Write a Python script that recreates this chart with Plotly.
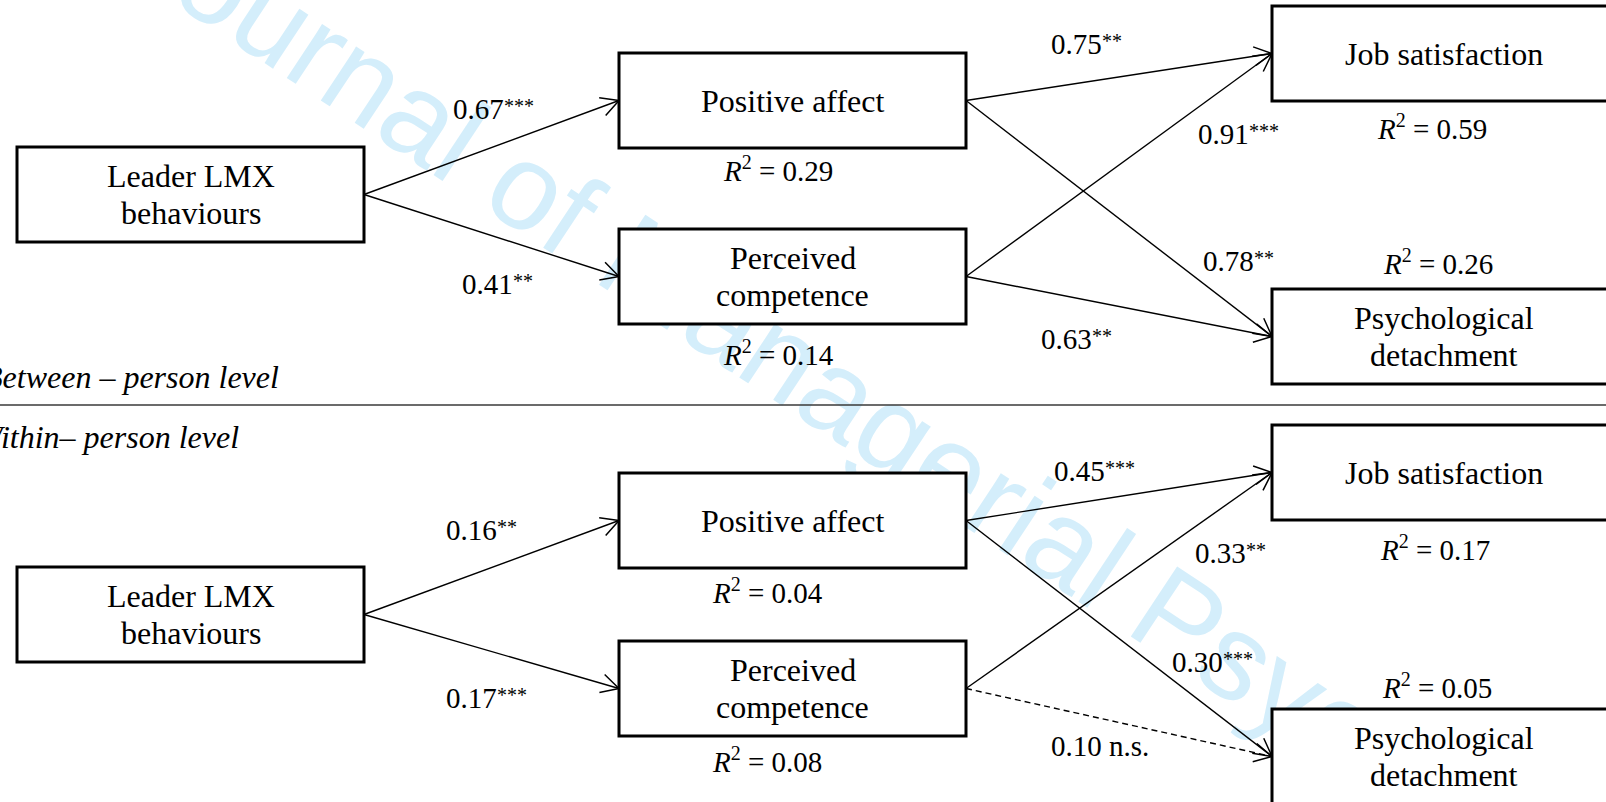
import math
import plotly.graph_objects as go

# ---------------- data ----------------
node_labels = ["Leader LMX<br>behaviours", "Positive affect", "Perceived<br>competence",
               "Job satisfaction", "Psychological<br>detachment"]
path_from = [0, 0, 1, 1, 2, 2]
path_to = [1, 2, 3, 4, 3, 4]
level_names = ["Between – person level", "Within– person level"]
between_coef = [0.67, 0.41, 0.75, 0.78, 0.91, 0.63]
between_sig = ["***", "**", "**", "**", "***", "**"]
within_coef = [0.16, 0.17, 0.45, 0.30, 0.33, 0.10]
within_sig = ["**", "***", "***", "***", "**", "n.s."]
between_r2 = [None, 0.29, 0.14, 0.59, 0.26]
within_r2 = [None, 0.04, 0.08, 0.17, 0.05]
watermark_text = "Journal of Managerial Psychology"

# ---------------- layout (positions / styles) ----------------
W, H = 1606, 802
SERIF = "Liberation Serif, Times New Roman, serif"
BOX_FS, LAB_FS, STAR_FS, LEVEL_FS = 32, 29, 20, 32
node_left = [17, 619, 619, 1272, 1272]
node_width = [347, 347, 347, 344, 344]
node_height = 95
node_top = [[147, 53, 229, 6, 289], [567, 473, 641, 425, 709]]
coef_pos = [[(451, 109), (460, 284), (1049, 44), (1201, 261), (1196, 134), (1039, 339)],
            [(444, 530), (444, 698), (1052, 471), (1170, 662), (1193, 553), (1049, 746)]]
r2_pos = [[None, (778, 169), (778, 353), (1432, 127), (1438, 262)],
          [None, (767, 591), (767, 760), (1435, 548), (1437, 686)]]
level_pos = [(281, 377), (241, 437)]
sep_y = 405
line_gap = 36.5
head_len, head_ang = 20, math.radians(28)
wm_center, wm_angle, wm_size = (909, 425), 33.5, 122
CHAR_W = {".": 0.25}  # Times-like advance widths (em); digits 0.5

levels = [(between_coef, between_sig, between_r2), (within_coef, within_sig, within_r2)]

fig = go.Figure()

# watermark (behind everything)
fig.add_shape(type="rect", x0=wm_center[0] - 1, x1=wm_center[0] + 1,
              y0=wm_center[1] - 1, y1=wm_center[1] + 1, layer="below",
              line=dict(width=0), fillcolor="rgba(0,0,0,0)",
              label=dict(text=watermark_text, textangle=wm_angle, textposition="middle center",
                         font=dict(family="Liberation Sans, Arial, sans-serif", size=wm_size,
                                   color="#d4eefb")))

for li, (coefs, sigs, r2s) in enumerate(levels):
    tops = node_top[li]
    # paths + arrowheads
    for k, (s, t) in enumerate(zip(path_from, path_to)):
        x0 = node_left[s] + node_width[s]
        y0 = tops[s] + node_height / 2
        x1 = node_left[t]
        y1 = tops[t] + node_height / 2
        dashed = sigs[k] == "n.s."
        fig.add_trace(go.Scatter(x=[x0, x1], y=[y0, y1], mode="lines",
                                 line=dict(color="black", width=1.4,
                                           dash="6px,4px" if dashed else "solid"),
                                 hoverinfo="skip"))
        ang = math.atan2(y1 - y0, x1 - x0)
        hx, hy = [], []
        for sgn in (1, -1):
            a = ang + math.pi + sgn * head_ang
            hx.append(x1 + head_len * math.cos(a))
            hy.append(y1 + head_len * math.sin(a))
        fig.add_trace(go.Scatter(x=[hx[0], x1, hx[1]], y=[hy[0], y1, hy[1]], mode="lines",
                                 line=dict(color="black", width=1.5), hoverinfo="skip"))
        cx, cy = coef_pos[li][k]
        num = f"{coefs[k]:.2f}"
        if dashed:
            fig.add_annotation(x=cx, y=cy, text=f"{num} {sigs[k]}", showarrow=False,
                               xanchor="left", yanchor="middle",
                               font=dict(family=SERIF, size=LAB_FS, color="black"))
        else:
            fig.add_annotation(x=cx, y=cy, text=num, showarrow=False, xanchor="left",
                               yanchor="middle",
                               font=dict(family=SERIF, size=LAB_FS, color="black"))
            nw = sum(CHAR_W.get(c, 0.5) for c in num) * LAB_FS
            fig.add_annotation(x=cx + nw, y=cy - 3, text=sigs[k], showarrow=False,
                               xanchor="left", yanchor="middle",
                               font=dict(family=SERIF, size=STAR_FS, color="black"))
    # boxes
    for n, lab in enumerate(node_labels):
        x0, y0 = node_left[n], tops[n]
        fig.add_shape(type="rect", x0=x0, x1=x0 + node_width[n], y0=y0, y1=y0 + node_height,
                      layer="above", line=dict(color="black", width=3), fillcolor="white")
        parts = lab.split("<br>")
        cx = x0 + node_width[n] / 2 if n < 3 else 1444
        cy = y0 + node_height / 2
        for j, p in enumerate(parts):
            yy = cy + (j - (len(parts) - 1) / 2) * line_gap
            fig.add_annotation(x=cx, y=yy, text=p, showarrow=False, xanchor="center",
                               yanchor="middle",
                               font=dict(family=SERIF, size=BOX_FS, color="black"))
        if r2s[n] is not None:
            rx, ry = r2_pos[li][n]
            txt = (f'<span style="font-style:italic;font-size:{LAB_FS}px">R</span>'
                   f'<sup><span style="font-size:20px">2</span></sup> = {r2s[n]:.2f}')
            fig.add_annotation(x=rx, y=ry, text=txt,
                               showarrow=False, xanchor="center", yanchor="middle",
                               font=dict(family=SERIF, size=LAB_FS, color="black"))
    lx, ly = level_pos[li]
    fig.add_annotation(x=lx, y=ly, text=level_names[li], showarrow=False,
                       xanchor="right", yanchor="middle",
                       font=dict(family=SERIF, size=LEVEL_FS, color="black", style="italic"))

fig.add_shape(type="line", xref="paper", x0=-0.01, x1=1.01, y0=sep_y, y1=sep_y,
              layer="above", line=dict(color="#3a3a3a", width=1.5))

fig.update_layout(width=W, height=H, margin=dict(l=0, r=0, t=0, b=0),
                  paper_bgcolor="white", plot_bgcolor="white", showlegend=False,
                  xaxis=dict(range=[0, W], visible=False, fixedrange=True),
                  yaxis=dict(range=[H, 0], visible=False, fixedrange=True))
fig.write_html("out.html", config={"displayModeBar": False},
               post_script="document.body.style.margin='0';document.body.style.overflow='hidden';")
